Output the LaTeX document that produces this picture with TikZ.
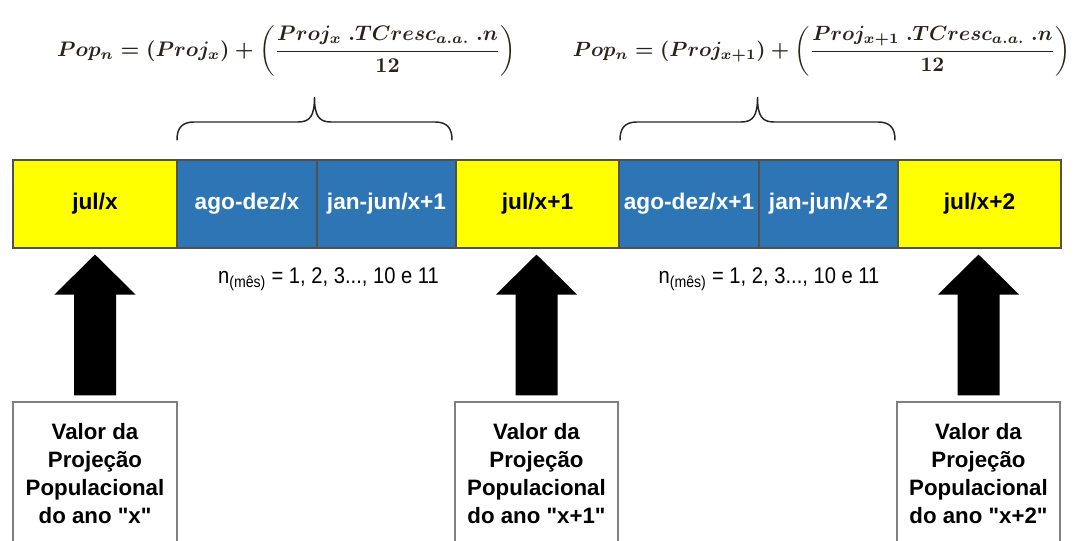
\documentclass[tikz,border=0pt]{standalone}
\usepackage{fontspec}
\usepackage{graphicx}
\newfontfamily\arialfam{Liberation Sans}
\usetikzlibrary{calc}
\definecolor{barYellow}{HTML}{FFFF00}
\definecolor{barBlue}{HTML}{2E75B6}
\definecolor{barEdge}{HTML}{505050}
\definecolor{boxEdge}{HTML}{808080}
\definecolor{formulaInk}{HTML}{2A2118}
% big black up-arrow from a box (#1) to a bar segment (#2)
\newcommand\popArrow[2]{%
  \fill[black] let \p1=(#1.north), \p2=(#2.south) in
    ({\x1-15.75pt},{\y1+4.5pt}) -- ({\x1-15.75pt},{\y2-34.5pt}) --
    ({\x1-30.4pt},{\y2-34.5pt}) -- ({\x1},{\y2-4.5pt}) --
    ({\x1+30.4pt},{\y2-34.5pt}) -- ({\x1+15.75pt},{\y2-34.5pt}) --
    ({\x1+15.75pt},{\y1+4.5pt}) -- cycle;}
\begin{document}
\begin{tikzpicture}[x=0.75pt,y=-0.75pt,
  seg/.style={minimum height=66pt, inner sep=0pt, draw=barEdge, line width=0.8pt,
    font=\arialfam\bfseries\fontsize{17}{20}\selectfont},
  yseg/.style={seg, fill=barYellow, text=black},
  bseg/.style={seg, fill=barBlue, text=white},
  valbox/.style={draw=boxEdge, line width=1.1pt, fill=white, minimum height=107.25pt,
    inner sep=0pt, align=center, font=\arialfam\bfseries\fontsize{16.7}{21}\selectfont},
  nlabel/.style={inner sep=0pt, font=\arialfam\fontsize{17}{20}\selectfont},
  formula/.style={inner sep=0pt, text=formulaInk, font=\boldmath},
  bracepath/.style={line width=1.1pt, draw=black!85, line cap=round}]
\useasboundingbox (0,0) rectangle (1085,541);
\clip (0,0) rectangle (1085,541);

% formulas
\node[formula] (f1) at (286.5,51) {\resizebox{344pt}{!}{$\displaystyle Pop_n = (Proj_x) + \left(\frac{Proj_x\;.TCresc_{a.a.}\;.n}{12}\right)$}};
\node[formula] (f2) at (821.5,51) {\resizebox{373pt}{!}{$\displaystyle Pop_n = (Proj_{x+1}) + \left(\frac{Proj_{x+1}\;.TCresc_{a.a.}\;.n}{12}\right)$}};

% braces
\coordinate (bl1) at (177,140);
\coordinate (br1) at (452,140);
\draw[bracepath] (bl1) .. controls (177,128) and (182,122) .. (194,122) -- (298,122)
  .. controls (310,122) and (314.5,116) .. (314.5,97)
  .. controls (314.5,116) and (319,122) .. (331,122) -- (435,122)
  .. controls (447,122) and (452,128) .. (br1);
\begin{scope}[xshift=332.25pt]
\coordinate (bl2) at (177,140);
\coordinate (br2) at (452,140);
\draw[bracepath] (bl2) .. controls (177,128) and (182,122) .. (194,122) -- (298,122)
  .. controls (310,122) and (314.5,116) .. (314.5,97)
  .. controls (314.5,116) and (319,122) .. (331,122) -- (435,122)
  .. controls (447,122) and (452,128) .. (br2);
\end{scope}

% timeline bar
\node[yseg, minimum width=123pt]    (s1) at (95,204)    {jul/x};
\node[bseg, minimum width=105pt]    (s2) at (247,204)   {ago-dez/x};
\node[bseg, minimum width=104.25pt] (s3) at (386.5,204) {jan-jun/x+1};
\node[yseg, minimum width=122.25pt] (s4) at (537.5,204) {jul/x+1};
\node[bseg, minimum width=105pt]    (s5) at (689,204)   {ago-dez/x+1};
\node[bseg, minimum width=104.25pt] (s6) at (828.5,204) {jan-jun/x+2};
\node[yseg, minimum width=122.25pt] (s7) at (979.5,204) {jul/x+2};

% month labels
\node[nlabel] (n1) at (328.5,279) {\scalebox{0.89}[1]{n\textsubscript{(mês)} = 1, 2, 3..., 10 e 11}};
\node[nlabel] (n2) at (769,279) {\scalebox{0.89}[1]{n\textsubscript{(mês)} = 1, 2, 3..., 10 e 11}};

% value boxes
\node[valbox, minimum width=123pt]    (b1) at (95,473.5)  {Valor da\\Projeção\\Populacional\\do ano "x"};
\node[valbox, minimum width=122.25pt] (b2) at (536.5,473.5) {Valor da\\Projeção\\Populacional\\do ano "x+1"};
\node[valbox, minimum width=122.25pt] (b3) at (978.5,473.5) {Valor da\\Projeção\\Populacional\\do ano "x+2"};

% arrows
\popArrow{b1}{s1}
\popArrow{b2}{s4}
\popArrow{b3}{s7}
\end{tikzpicture}
\end{document}
